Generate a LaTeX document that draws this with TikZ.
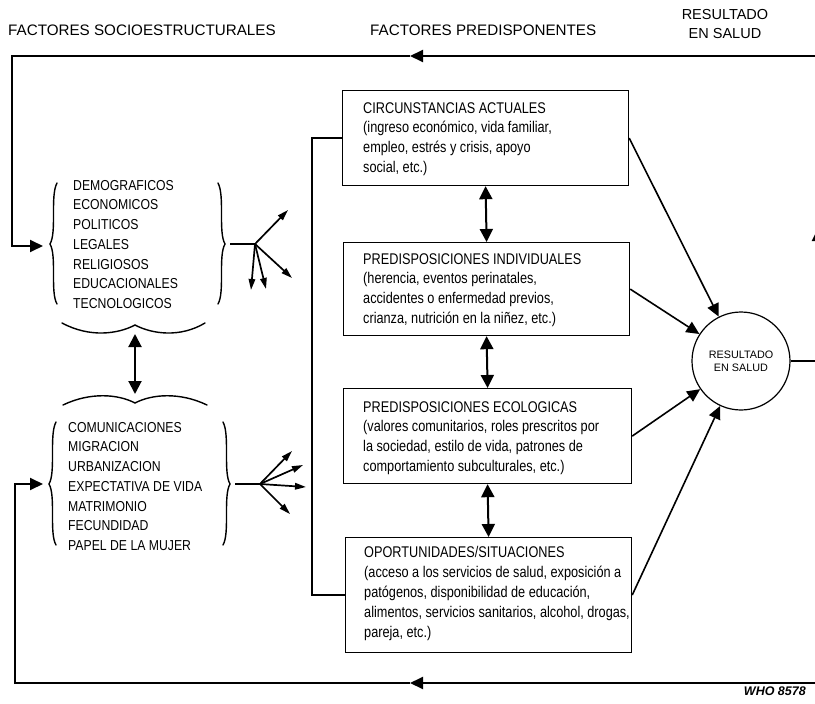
\documentclass[tikz,border=0pt]{standalone}
\usepackage{fontspec}
\setmainfont{Liberation Sans}
\newfontfamily\condfont{Liberation Sans}[FakeStretch=0.85]
\newfontfamily\boxfont{Liberation Sans}[FakeStretch=0.82]
\usetikzlibrary{arrows.meta}
\begin{document}
\begin{tikzpicture}[x=1pt,y=-1pt,
  boxn/.style={draw, line width=1.2pt, inner sep=0pt, anchor=north west},
  btext/.style={anchor=north west, inner sep=0pt, align=left, font=\boxfont\fontsize{15.5}{19.9}\selectfont},
  ltext/.style={anchor=north west, inner sep=0pt, align=left, font=\condfont\fontsize{14.4}{19.7}\selectfont},
  hdr/.style={inner sep=0pt, font=\fontsize{15.2}{19}\selectfont},
  conn/.style={line width=1.9pt},
  thinconn/.style={line width=1.6pt},
  bigtip/.style={-{Triangle[length=13pt,width=12pt]}},
  dbl/.style={{Triangle[length=13pt,width=13pt]}-{Triangle[length=13pt,width=13pt]}, line width=2pt},
  fan/.style={-{Triangle[length=11pt,width=6.5pt]}, line width=1.7pt},
  brace/.style={line width=1.4pt, line cap=round},
]
\useasboundingbox (0,0) rectangle (815,704);

% headers
\node[hdr, anchor=base west] (h1) at (8,35.5) {FACTORES SOCIOESTRUCTURALES};
\node[hdr, anchor=base west] (h2) at (370,35.5) {FACTORES PREDISPONENTES};
\node[hdr, anchor=north, align=center, font=\fontsize{14.5}{19}\selectfont] (h3) at (725,9.5) {RESULTADO\\EN SALUD};

% boxes
\node[boxn, minimum width=286pt, minimum height=95pt] (b1) at (342,90) {};
\node[boxn, minimum width=286pt, minimum height=93pt] (b2) at (343,242) {};
\node[boxn, minimum width=288pt, minimum height=95pt] (b3) at (343,388) {};
\node[boxn, minimum width=286pt, minimum height=115pt] (b4) at (345,537) {};

\node[btext] (t1) at (363,102) {CIRCUNSTANCIAS ACTUALES\\(ingreso económico, vida familiar,\\empleo, estrés y crisis, apoyo\\social, etc.)};
\node[btext] (t2) at (363,253) {PREDISPOSICIONES INDIVIDUALES\\(herencia, eventos perinatales,\\accidentes o enfermedad previos,\\crianza, nutrición en la niñez, etc.)};
\node[btext] (t3) at (363,401) {PREDISPOSICIONES ECOLOGICAS\\(valores comunitarios, roles prescritos por\\la sociedad, estilo de vida, patrones de\\comportamiento subculturales, etc.)};
\node[btext] (t4) at (364,546) {OPORTUNIDADES/SITUACIONES\\(acceso a los servicios de salud, exposición a\\patógenos, disponibilidad de educación,\\alimentos, servicios sanitarios, alcohol, drogas,\\pareja, etc.)};

% double arrows between boxes
\draw[dbl] (b1.south) -- (b2.north);
\draw[dbl] (b2.south) -- (b3.north);
\draw[dbl] (b3.south) -- (b4.north);

% bracket line on left of boxes
\draw[conn] (b1.west) -- ++(-30,0) |- (b4.west);

% result circle
\node[circle, draw, line width=1.2pt, minimum size=98pt, inner sep=0pt, align=center,
      font=\fontsize{10.8}{13}\selectfont] (c) at (741,361) {RESULTADO\\EN SALUD};

\draw[thinconn, bigtip] (b1.east) -- (c);
\draw[thinconn, bigtip] (b2.east) -- (c);
\draw[thinconn, bigtip] (b3.east) -- (c);
\draw[thinconn, bigtip] (b4.east) -- (c);

% lists
\node[ltext] (l1) at (73,180) {DEMOGRAFICOS\\ECONOMICOS\\POLITICOS\\LEGALES\\RELIGIOSOS\\EDUCACIONALES\\TECNOLOGICOS};
\node[ltext] (l2) at (68,422) {COMUNICACIONES\\MIGRACION\\URBANIZACION\\EXPECTATIVA DE VIDA\\MATRIMONIO\\FECUNDIDAD\\PAPEL DE LA MUJER};

% braces list 1
\draw[brace] (57,183) .. controls (50,196) and (57,232) .. (50,244) .. controls (57,256) and (50,292) .. (57,304);
\draw[brace] (218,183) .. controls (225,196) and (218,232) .. (225,244) .. controls (218,256) and (225,292) .. (218,304);
\draw[brace] (62,323) .. controls (90,338) and (118,334) .. (135,325) .. controls (152,334) and (180,338) .. (205,323);
% braces list 2
\draw[brace] (56,422) .. controls (49,435) and (56,472) .. (49,484) .. controls (56,496) and (49,533) .. (56,545);
\draw[brace] (223,422) .. controls (230,435) and (223,472) .. (230,484) .. controls (223,496) and (230,533) .. (223,545);
\draw[brace] (63,405) .. controls (90,392) and (118,394) .. (135,403) .. controls (152,394) and (180,392) .. (207,405);

\coordinate (br1) at (135,334);
\coordinate (br2) at (135,394);
\draw[dbl] (br1) -- (br2);

% fans
\coordinate (f1s) at (230,244);
\coordinate (f1) at (255,244);
\draw[thinconn] (f1s) -- (f1);
\coordinate (f1a) at (288,210);
\coordinate (f1b) at (292,278);
\coordinate (f1c) at (251,290);
\coordinate (f1d) at (266,289);
\draw[fan] (f1) -- (f1a);
\draw[fan] (f1) -- (f1b);
\draw[fan] (f1) -- (f1c);
\draw[fan] (f1) -- (f1d);

\coordinate (f2s) at (235,484);
\coordinate (f2) at (260,484);
\draw[thinconn] (f2s) -- (f2);
\coordinate (f2a) at (292,451);
\coordinate (f2b) at (303,465);
\coordinate (f2c) at (306,487);
\coordinate (f2d) at (290,514);
\draw[fan] (f2) -- (f2a);
\draw[fan] (f2) -- (f2b);
\draw[fan] (f2) -- (f2c);
\draw[fan] (f2) -- (f2d);

% feedback loops
\coordinate (re) at (818,361);
\coordinate (rup) at (818,228);
\coordinate (tr) at (818,56);
\coordinate (ta) at (410,56);
\coordinate (tl) at (12,56);
\coordinate (l1in) at (43,246);
\coordinate (br) at (818,683);
\coordinate (ba) at (410,683);
\coordinate (bl) at (15,683);
\coordinate (l2in) at (43,484);

\draw[thinconn] (c.east) -- (re);
\draw[conn, bigtip] (re) -- (rup);
\draw[conn, bigtip] (tr) -- (ta);
\draw[conn, bigtip] (ta) -- (tl) |- (l1in);
\draw[conn] (rup) -- (tr);
\draw[conn] (re) -- (br);
\draw[conn, bigtip] (br) -- (ba);
\draw[conn, bigtip] (ba) -- (bl) |- (l2in);

\node[anchor=base east, inner sep=0pt, font=\bfseries\itshape\fontsize{12.5}{13}\selectfont] (who) at (806,695) {WHO 8578};
\end{tikzpicture}
\end{document}
